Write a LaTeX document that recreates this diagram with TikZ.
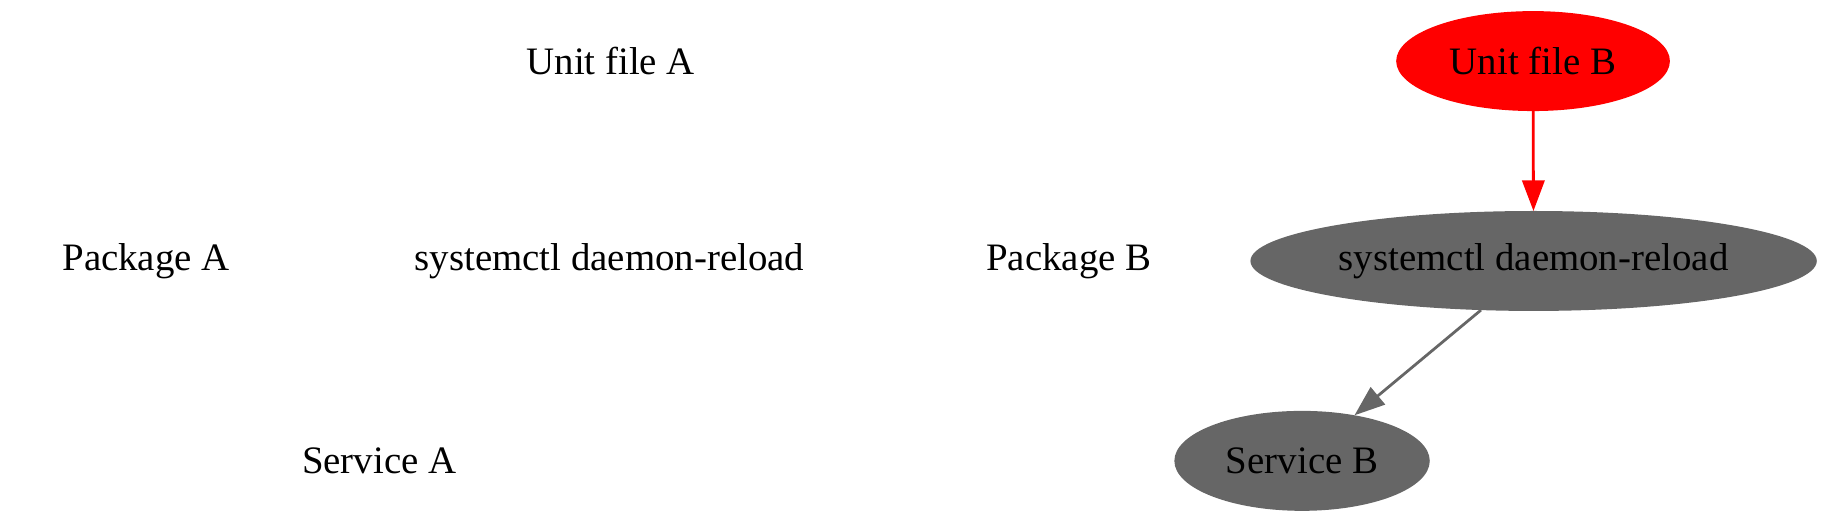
\documentclass[tikz,border=0pt]{standalone}
\usepackage{fontspec}
\setmainfont{Liberation Serif}
\usetikzlibrary{shapes.geometric,arrows.meta}
\definecolor{gvgray}{HTML}{666666}
\begin{document}
\begin{tikzpicture}[x=1pt,y=1pt,
  every node/.style={font=\fontsize{14pt}{16pt}\selectfont, inner sep=0pt, outer sep=0pt},
  plainlabel/.style={},
  blob/.style={ellipse, minimum height=36pt},
  edgearrow/.style={line width=1pt,-{Triangle[length=11pt,width=8pt]}}]
\useasboundingbox (0,0) rectangle (657,188);
\node[plainlabel] (ufA) at (220,166) {Unit file A};
\node[plainlabel] (pkgA) at (52.6,94) {Package A};
\node[plainlabel] (scA) at (219.5,94) {systemctl daemon-reload};
\node[plainlabel] (pkgB) at (385,94) {Package B};
\node[plainlabel] (svA) at (136.6,22) {Service A};
\node[blob, fill=red, minimum width=98.6pt] (ufB) at (552.2,166) {Unit file B};
\node[blob, fill=gvgray, minimum width=204pt] (scB) at (552.4,94) {systemctl daemon-reload};
\node[blob, fill=gvgray, minimum width=92pt] (svB) at (469,22) {Service B};
\draw[edgearrow, red] (ufB) -- (scB);
\draw[edgearrow, gvgray] (scB.-137) -- (svB.41);
\end{tikzpicture}
\end{document}
